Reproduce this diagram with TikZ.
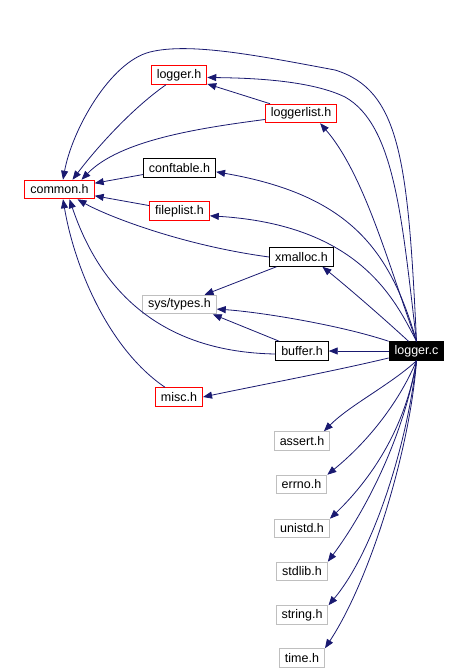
\documentclass[tikz,border=0pt]{standalone}
\usepackage{fontspec}
\setmainfont{Liberation Sans}
\usepackage{xcolor}
\usepackage{tikz}
\usetikzlibrary{arrows.meta}
\definecolor{edgeblue}{HTML}{191970}
\definecolor{linkred}{HTML}{FF0000}
\definecolor{sysgray}{HTML}{BFBFBF}

\begin{document}
\begin{tikzpicture}[x=1pt,y=-1pt,
  every node/.style={font=\fontsize{12.5}{15}\selectfont,inner xsep=5.5pt,inner ysep=0pt,
    minimum height=18.5pt,line width=1pt,text=black},
  redbox/.style={draw=linkred},
  blackbox/.style={draw=black},
  graybox/.style={draw=sysgray},
  rootbox/.style={draw=black,fill=black,text=white},
  dep/.style={draw=edgeblue,line width=0.8pt,-{Triangle[length=9pt,width=7pt]}}]
  \useasboundingbox (0,0) rectangle (470,670);
  % headers
  \node[redbox] (lh) at (179,75) {logger.h};
  \node[redbox] (llist) at (301,113.5) {loggerlist.h};
  \node[redbox] (common) at (59.5,189.5) {common.h};
  \node[blackbox] (conf) at (179.5,168) {conftable.h};
  \node[redbox] (fl) at (179.5,211) {fileplist.h};
  \node[blackbox] (xm) at (301.5,257) {xmalloc.h};
  \node[graybox] (st) at (179.5,304.5) {sys/types.h};
  \node[blackbox] (bf) at (302,351) {buffer.h};
  \node[rootbox] (lc) at (416.5,351) {logger.c};
  \node[redbox] (misc) at (179,397) {misc.h};
  \node[graybox] (as) at (302,441) {assert.h};
  \node[graybox] (en) at (301.5,484.5) {errno.h};
  \node[graybox] (un) at (302,528.5) {unistd.h};
  \node[graybox] (sl) at (302,571.5) {stdlib.h};
  \node[graybox] (sg) at (302,615) {string.h};
  \node[graybox] (tm) at (302,658) {time.h};
  % into common.h
  \draw[dep] (lc.north) .. controls (408,160) and (400,90) .. (335,70)
    .. controls (260,56) and (190,42) .. (150,52)
    .. controls (110,62) and (72,130) .. ([xshift=3.5pt]common.north);
  \draw[dep] ([xshift=-13pt]lh.south) .. controls (130,110) and (95,150) .. ([xshift=13pt]common.north);
  \draw[dep] ([yshift=-6pt]llist.west) .. controls (200,128) and (120,140) .. ([xshift=22pt]common.north);
  \draw[dep] (conf) -- (common);
  \draw[dep] (fl) -- (common);
  \draw[dep] (xm.west) .. controls (180,245) and (105,215) .. ([xshift=18pt]common.south);
  \draw[dep] ([yshift=-3pt]bf.west) .. controls (160,352) and (100,290) .. ([xshift=10pt]common.south);
  \draw[dep] ([xshift=-14pt]misc.north) .. controls (110,350) and (75,270) .. ([xshift=3.5pt]common.south);
  % between headers
  \draw[dep] (llist) -- (lh);
  \draw[dep] (xm) -- (st);
  \draw[dep] ([xshift=4pt]bf.north west) -- ([xshift=-4pt]st.south east);
  % from logger.c
  \draw[dep] (lc.north) .. controls (402,220) and (395,125) .. (345,97)
    .. controls (310,80) and (250,78) .. (lh.-5);
  \draw[dep] (lc.north) .. controls (390,270) and (365,175) .. (llist.-27);
  \draw[dep] (lc.north) .. controls (390,250) and (350,195) .. (conf.-6);
  \draw[dep] (lc.north) .. controls (395,300) and (360,225) .. (fl.-9);
  \draw[dep] ([xshift=-8pt]lc.north) .. controls (380,315) and (345,285) .. (xm.-25);
  \draw[dep] (lc.north west) .. controls (340,325) and (260,312) .. (st.-7);
  \draw[dep] (lc) -- (bf);
  \draw[dep] ([yshift=-7pt]lc.west) .. controls (330,372) and (260,385) .. (misc.east);
  \draw[dep] (lc.south) .. controls (390,385) and (350,405) .. (as.24);
  \draw[dep] (lc.south) .. controls (400,400) and (370,440) .. (en.north east);
  \draw[dep] (lc.south) .. controls (405,430) and (370,480) .. (un.north east);
  \draw[dep] (lc.south) .. controls (405,430) and (370,505) .. (sl.north east);
  \draw[dep] (lc.south) .. controls (408,440) and (375,550) .. (sg.north east);
  \draw[dep] (lc.south) .. controls (410,450) and (370,580) .. (tm.north east);
\end{tikzpicture}
\end{document}
